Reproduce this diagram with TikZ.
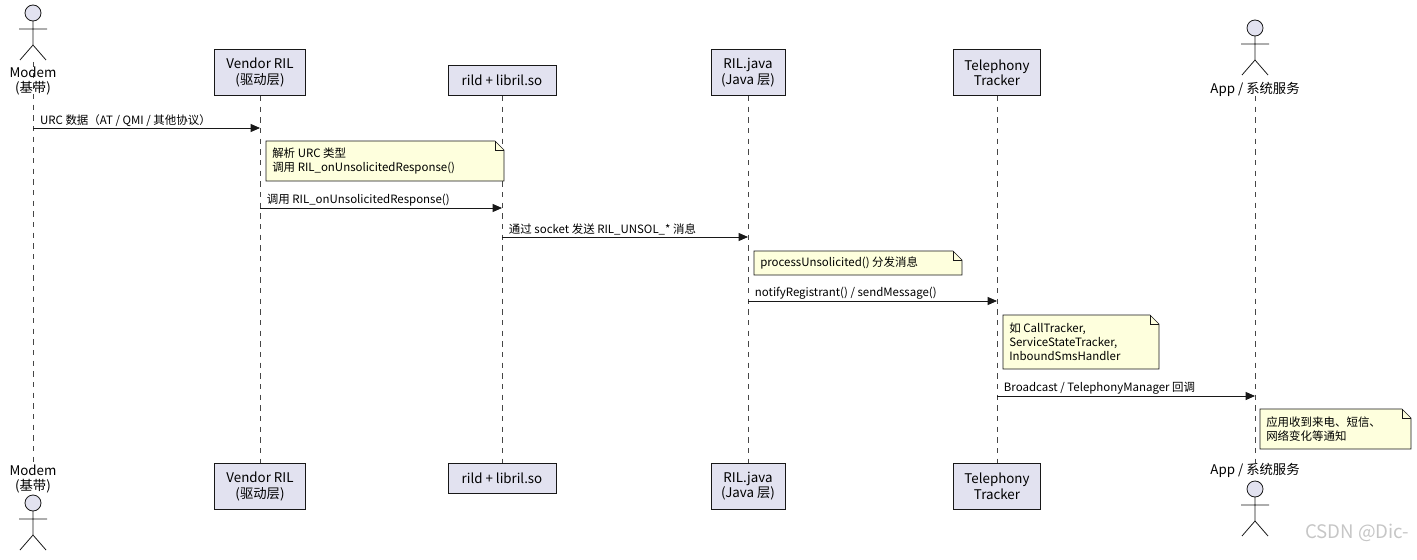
\documentclass[tikz,border=0pt]{standalone}
\usepackage{fontspec}
\setmainfont{Noto Sans CJK SC}
\usetikzlibrary{arrows.meta}
\definecolor{pbox}{HTML}{E2E2F0}
\definecolor{nbox}{HTML}{FEFFDD}
\definecolor{ln}{HTML}{181818}
\tikzset{
 part/.style={draw=ln,fill=pbox,line width=0.6pt,align=center,inner sep=0pt,font=\fontsize{10}{11.5}\selectfont},
 life/.style={draw=ln!80,line width=0.5pt,dash pattern=on 4pt off 4pt},
 msg/.style={draw=ln,line width=0.6pt,-{Triangle[length=7pt,width=6pt]}},
 mlab/.style={font=\fontsize{8.6}{10}\selectfont,anchor=south west,inner sep=1pt},
 nt/.style={font=\fontsize{8.6}{10.5}\selectfont,align=left,anchor=west,inner sep=0pt},
 alab/.style={font=\fontsize{10}{11.5}\selectfont,align=center,inner sep=0pt},
 actorl/.style={draw=ln,line width=0.6pt}
}
\newcommand\umlnote[6]{%
 \draw[draw=ln,fill=nbox,line width=0.5pt] (#1,#2)--(#3-9,#2)--(#3,#2+9)--(#3,#4)--(#1,#4)--cycle;
 \draw[draw=ln,line width=0.5pt] (#3-9,#2)--(#3-9,#2+9)--(#3,#2+9);
 \node[nt] (#5) at (#1+6,{(#2+#4)/2}) {#6};}
\newcommand\actorfig[2]{% x, head center y
 \draw[actorl,fill=pbox] (#1,#2) circle (8);
 \draw[actorl] (#1,#2+8)--(#1,#2+32) (#1-14,#2+16)--(#1+14,#2+16) (#1,#2+32)--(#1-13,#2+47) (#1,#2+32)--(#1+13,#2+47);}
\begin{document}
\begin{tikzpicture}[x=0.75pt,y=-0.75pt]
\useasboundingbox (0,0) rectangle (1417,560);
% lifelines
\foreach \x/\a in {33/62,260/96,502/96,748/96,997/96,1255/96}
  \draw[life] (\x,\a)--(\x,463);
% actors
\actorfig{33}{13}
\node[alab] (modemT) at (33,81) {Modem\\(基带)};
\actorfig{33}{503}
\node[alab] (modemB) at (33,479) {Modem\\(基带)};
\actorfig{1255}{28}
\node[alab] (appT) at (1255,89) {App / 系统服务};
\actorfig{1255}{489}
\node[alab] (appB) at (1255,470) {App / 系统服务};
% participant boxes
\foreach \n/\x/\w/\t/\txt in {ven/260/91/46/{Vendor RIL\\(驱动层)},rild/502/108/30/{rild + libril.so},ril/748/74/46/{RIL.java\\(Java 层)},tel/997/87/46/{Telephony\\Tracker}}{
  \node[part,minimum width=\w*0.75pt,minimum height=\t*0.75pt,anchor=south] (\n T) at (\x,96) {\txt};
  \node[part,minimum width=\w*0.75pt,minimum height=\t*0.75pt,anchor=north] (\n B) at (\x,463) {\txt};
}
\coordinate (m1a) at (33,128); \coordinate (m1b) at (260,128);
\draw[msg] (m1a)--(m1b) node[mlab,pos=0] at (m1a) {\hspace{4pt}URC 数据（AT / QMI / 其他协议）};
\umlnote{266}{141}{504}{181}{n1}{解析 URC 类型\\调用 RIL\_onUnsolicitedResponse()}
\coordinate (m2a) at (260,208); \coordinate (m2b) at (502,208);
\draw[msg] (m2a)--(m2b); \node[mlab] at (m2a) {\hspace{4pt}调用 RIL\_onUnsolicitedResponse()};
\coordinate (m3a) at (502,237); \coordinate (m3b) at (748,237);
\draw[msg] (m3a)--(m3b); \node[mlab] at (m3a) {\hspace{4pt}通过 socket 发送 RIL\_UNSOL\_* 消息};
\umlnote{754}{251}{962}{275}{n2}{processUnsolicited() 分发消息}
\coordinate (m4a) at (748,301); \coordinate (m4b) at (997,301);
\draw[msg] (m4a)--(m4b); \node[mlab] at (m4a) {\hspace{4pt}notifyRegistrant() / sendMessage()};
\umlnote{1003}{315}{1159}{369}{n3}{如 CallTracker,\\ServiceStateTracker,\\InboundSmsHandler}
\coordinate (m5a) at (997,396); \coordinate (m5b) at (1255,396);
\draw[msg] (m5a)--(m5b); \node[mlab] at (m5a) {\hspace{4pt}Broadcast / TelephonyManager 回调};
\umlnote{1260}{409}{1411}{449}{n4}{应用收到来电、短信、\\网络变化等通知}
\node[font=\fontsize{14}{16}\selectfont,text=gray!45,anchor=east] (wm) at (1414,533) {CSDN @Dic-};
\end{tikzpicture}
\end{document}
